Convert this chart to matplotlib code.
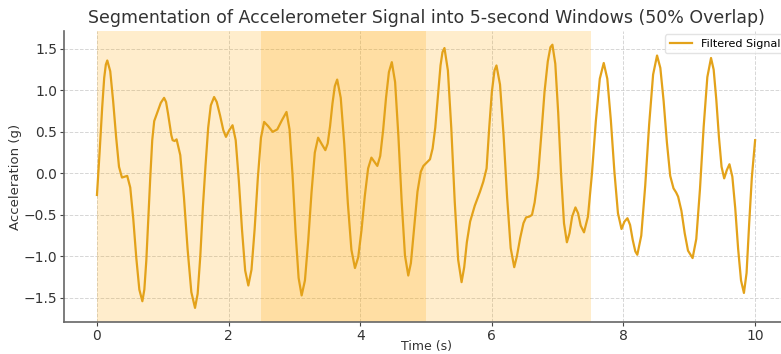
import matplotlib
matplotlib.use("Agg")
import matplotlib.pyplot as plt

# Time stamps (s) and filtered acceleration (g)
time_s = [
    0.00, 0.04, 0.08, 0.11, 0.135, 0.157, 0.202, 0.246, 0.291, 0.335, 0.38, 0.42, 0.46,
    0.506, 0.552, 0.598, 0.644, 0.69, 0.72, 0.75, 0.78, 0.81, 0.84, 0.87, 0.92, 0.97, 1.02,
    1.05, 1.08, 1.11, 1.13, 1.15, 1.18, 1.21, 1.266, 1.322, 1.378, 1.434, 1.49,
    1.53, 1.57, 1.61, 1.65, 1.69, 1.73, 1.78, 1.82, 1.87, 1.92, 1.96, 2.01, 2.06,
    2.108, 2.156, 2.204, 2.252, 2.30, 2.348, 2.396, 2.444, 2.492, 2.54, 2.60, 2.67,
    2.74, 2.81, 2.88, 2.926, 2.972, 3.018, 3.064, 3.11, 3.16, 3.21, 3.26, 3.31, 3.36,
    3.41, 3.47, 3.506, 3.542, 3.578, 3.614, 3.65, 3.704, 3.758, 3.812, 3.866, 3.92,
    3.97, 4.02, 4.07, 4.12, 4.17, 4.215, 4.26, 4.304, 4.348, 4.392, 4.436, 4.48,
    4.53, 4.58, 4.63, 4.68, 4.73, 4.77, 4.82, 4.87, 4.92, 4.96, 5.01, 5.06,
    5.10, 5.14, 5.18, 5.22, 5.25, 5.28, 5.332, 5.384, 5.436, 5.488, 5.54,
    5.58, 5.62, 5.67, 5.74, 5.82, 5.87, 5.92, 5.96, 6.00, 6.04, 6.07,
    6.124, 6.178, 6.232, 6.286, 6.34, 6.38, 6.43, 6.48, 6.52, 6.57, 6.61,
    6.65, 6.70, 6.75, 6.80, 6.85, 6.89, 6.92, 6.964, 7.008, 7.052, 7.096, 7.14,
    7.18, 7.22, 7.27, 7.31, 7.35, 7.40, 7.46, 7.52, 7.58, 7.64, 7.70,
    7.754, 7.808, 7.862, 7.916, 7.97, 8.015, 8.06, 8.10, 8.14, 8.18, 8.21,
    8.27, 8.33, 8.39, 8.45, 8.51, 8.56, 8.61, 8.66, 8.71, 8.76, 8.80, 8.83,
    8.88, 8.93, 8.98, 9.05, 9.106, 9.162, 9.218, 9.274, 9.33,
    9.37, 9.41, 9.45, 9.49, 9.53, 9.57, 9.61, 9.654, 9.698, 9.742, 9.786, 9.83,
    9.87, 9.91, 9.95, 10.00,
]
accel_g = [
    -0.26, 0.25, 0.80, 1.15, 1.31, 1.36, 1.23, 0.87, 0.44, 0.08, -0.05, -0.04, -0.03,
    -0.17, -0.55, -1.02, -1.40, -1.54, -1.40, -1.05, -0.55, -0.05, 0.40, 0.63, 0.74, 0.85, 0.91,
    0.86, 0.72, 0.56, 0.46, 0.40, 0.39, 0.41, 0.22, -0.29, -0.92, -1.43, -1.62,
    -1.45, -1.00, -0.40, 0.10, 0.55, 0.82, 0.92, 0.86, 0.70, 0.52, 0.44, 0.52, 0.58,
    0.40, -0.09, -0.68, -1.17, -1.35, -1.16, -0.67, -0.06, 0.43, 0.62, 0.57, 0.50,
    0.53, 0.64, 0.74, 0.53, -0.02, -0.71, -1.26, -1.47, -1.29, -0.81, -0.23, 0.25, 0.43,
    0.36, 0.28, 0.36, 0.57, 0.84, 1.05, 1.13, 0.91, 0.35, -0.36, -0.92, -1.14,
    -1.01, -0.68, -0.27, 0.06, 0.19, 0.14, 0.09, 0.21, 0.52, 0.91, 1.22, 1.34,
    1.10, 0.45, -0.34, -0.99, -1.23, -1.08, -0.65, -0.22, 0.02, 0.09, 0.13, 0.17,
    0.30, 0.55, 0.92, 1.30, 1.46, 1.51, 1.24, 0.54, -0.34, -1.04, -1.31,
    -1.13, -0.83, -0.58, -0.39, -0.22, -0.10, 0.06, 0.55, 0.98, 1.24, 1.30,
    1.07, 0.46, -0.29, -0.90, -1.13, -1.00, -0.78, -0.60, -0.53, -0.52, -0.50,
    -0.35, -0.05, 0.45, 0.98, 1.35, 1.52, 1.55, 1.32, 0.73, -0.01, -0.60, -0.83,
    -0.72, -0.52, -0.41, -0.48, -0.63, -0.71, -0.52, -0.01, 0.63, 1.14, 1.33,
    1.14, 0.64, 0.02, -0.48, -0.67, -0.58, -0.54, -0.62, -0.80, -0.94, -0.98,
    -0.75, -0.15, 0.59, 1.19, 1.42, 1.27, 0.87, 0.37, -0.03, -0.18, -0.23, -0.28,
    -0.45, -0.72, -0.93, -1.02, -0.79, -0.19, 0.56, 1.16, 1.39,
    1.25, 0.89, 0.44, 0.08, -0.06, 0.04, 0.11, -0.04, -0.42, -0.91, -1.29, -1.44,
    -1.20, -0.60, -0.05, 0.40,
]

# Windows (start, end) in seconds
windows = [(0.0, 5.0), (2.5, 7.5)]

title = "Segmentation of Accelerometer Signal into 5-second Windows (50% Overlap)"
xlabel = "Time (s)"
ylabel = "Acceleration (g)"
series_label = "Filtered Signal"

fig = plt.figure(figsize=(7.81, 3.54), dpi=100)
ax = fig.add_axes([0.082, 0.0904, 0.927, 0.822])

for (s, e) in windows:
    ax.axvspan(s, e, color="orange", alpha=0.2, lw=0)

ax.plot(time_s, accel_g, color="#E3A21A", lw=1.6, label=series_label,
        solid_joinstyle="round")

ax.set_xlim(-0.5, 10.5)
ax.set_ylim(-1.79, 1.715)
ax.set_xticks([0, 2, 4, 6, 8, 10])
ax.set_yticks([-1.5, -1.0, -0.5, 0.0, 0.5, 1.0, 1.5])

ax.grid(True, linestyle="--", color="#cccccc", lw=0.7, alpha=0.8)
ax.set_axisbelow(True)
for side in ["top", "right"]:
    ax.spines[side].set_visible(False)
for side in ["left", "bottom"]:
    ax.spines[side].set_color("#666666")
    ax.spines[side].set_linewidth(1.2)
ax.tick_params(colors="#444444", labelsize=10, length=3, width=0.8,
               labelcolor="#333333", pad=2)

ax.set_title(title, fontsize=12.5, color="#333333", pad=6)
ax.set_xlabel(xlabel, fontsize=9, color="#333333")
ax.xaxis.set_label_coords(0.5, -0.063)
ax.set_ylabel(ylabel, fontsize=9.5, color="#333333", labelpad=1)

leg = ax.legend(loc="upper right", fontsize=8, frameon=True, borderaxespad=0.3)
leg.get_frame().set_edgecolor("#dddddd")

fig.savefig("out.png", dpi=100)
